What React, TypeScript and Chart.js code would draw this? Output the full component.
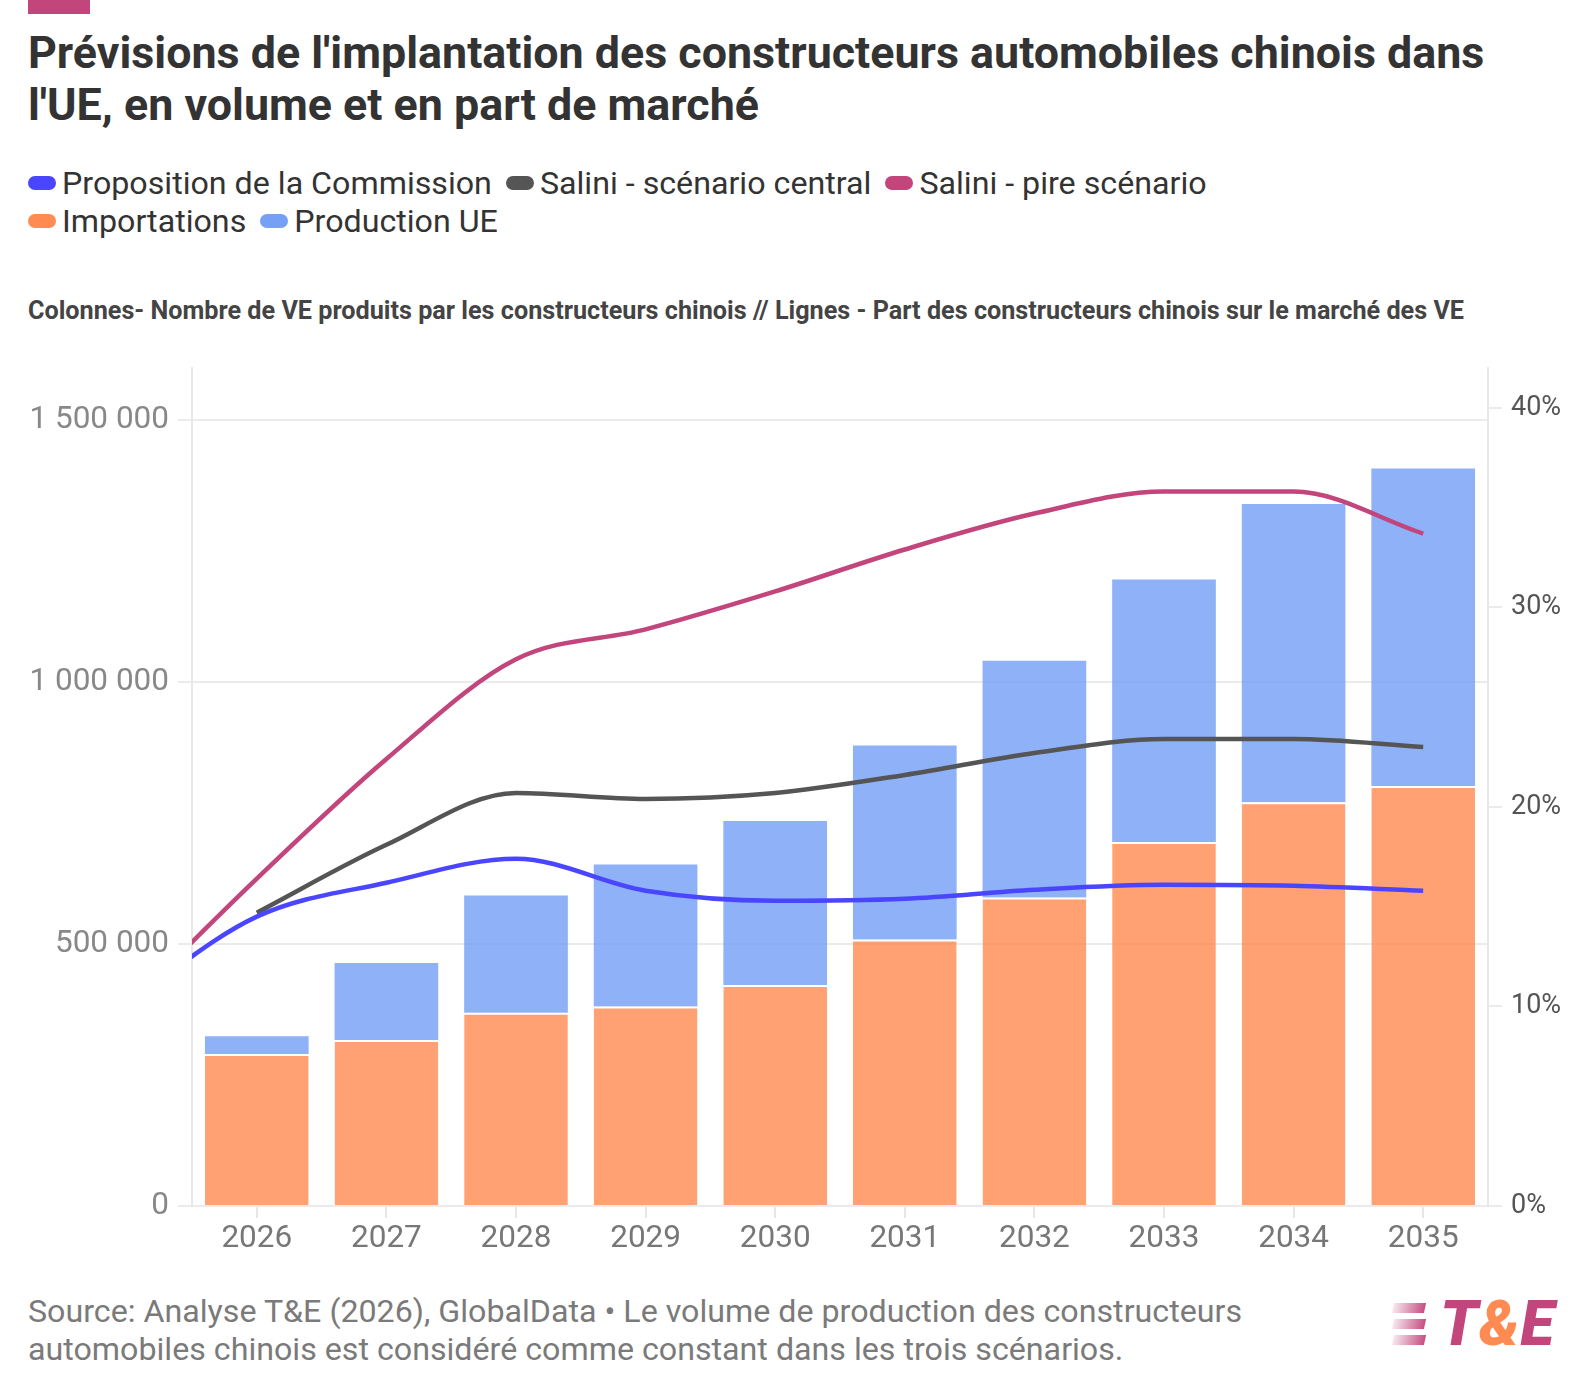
import React, { useEffect, useRef } from 'react';
import { Chart, registerables } from 'chart.js';

Chart.register(...registerables);

// ---- Data ----
const years = [2026, 2027, 2028, 2029, 2030, 2031, 2032, 2033, 2034, 2035];
const lineYears = [2025, 2026, 2027, 2028, 2029, 2030, 2031, 2032, 2033, 2034, 2035];

const importations = [290000, 317000, 369000, 381000, 422000, 509000, 589000, 695000, 771000, 802000];
const productionUE = [34000, 147000, 224000, 271000, 313000, 370000, 452000, 501000, 569000, 606000];

const propositionCommission = [10.2, 14.5, 16.2, 17.4, 15.8, 15.3, 15.4, 15.85, 16.1, 16.05, 15.8];
const saliniCentral = [null, 14.7, 18.1, 20.7, 20.4, 20.7, 21.6, 22.7, 23.4, 23.4, 23.0];
const saliniPire = [10.0, 16.4, 22.4, 27.4, 28.9, 30.8, 32.9, 34.7, 35.8, 35.8, 33.7];

const leftTicks = [0, 500000, 1000000, 1500000];
const rightTicks = [0, 10, 20, 30, 40];

const COLORS = {
  commission: '#4a46ff',
  central: '#555555',
  pire: '#c2457b',
  importBar: 'rgba(255,134,76,0.78)',
  prodBar: 'rgba(110,155,245,0.78)',
  importLegend: '#ff8a52',
  prodLegend: '#75a0f5',
};

const FONT = 'Roboto, "Noto Sans", sans-serif';

function fmtThousands(v: number) {
  return String(v).replace(/\B(?=(\d{3})+(?!\d))/g, ' ');
}

const legendRow1 = [
  { label: 'Proposition de la Commission', color: COLORS.commission },
  { label: 'Salini - scénario central', color: COLORS.central },
  { label: 'Salini - pire scénario', color: COLORS.pire },
];
const legendRow2 = [
  { label: 'Importations', color: COLORS.importLegend },
  { label: 'Production UE', color: COLORS.prodLegend },
];

function LegendRow({ items, top }: { items: { label: string; color: string }[]; top: number }) {
  return (
    <div
      style={{
        position: 'absolute',
        left: 28,
        top,
        height: 38,
        display: 'flex',
        alignItems: 'center',
        whiteSpace: 'nowrap',
        fontFamily: FONT,
        fontSize: 32.2,
        color: '#333',
      }}
    >
      {items.map((it, i) => (
        <div key={i} style={{ display: 'flex', alignItems: 'center', marginRight: 14 }}>
          <span
            style={{
              display: 'inline-block',
              width: 28,
              height: 14,
              borderRadius: 7,
              background: it.color,
              marginRight: 6,
            }}
          />
          <span>{it.label}</span>
        </div>
      ))}
    </div>
  );
}

export default function App() {
  const canvasRef = useRef<HTMLCanvasElement | null>(null);

  useEffect(() => {
    document.body.style.margin = '0';
    const canvas = canvasRef.current;
    if (!canvas) return;

    const lineCommon = {
      type: 'line',
      yAxisID: 'y1',
      borderWidth: 4.5,
      pointRadius: 0,
      pointHoverRadius: 0,
      cubicInterpolationMode: 'monotone',
      clip: 0,
      order: 0,
    };

    const chart = new Chart(canvas, {
      type: 'bar',
      data: {
        datasets: [
          {
            ...lineCommon,
            label: 'Proposition de la Commission',
            data: lineYears.map((x, i) => ({ x, y: propositionCommission[i] })),
            borderColor: COLORS.commission,
          } as any,
          {
            ...lineCommon,
            label: 'Salini - scénario central',
            data: lineYears.map((x, i) => ({ x, y: saliniCentral[i] })),
            borderColor: COLORS.central,
          } as any,
          {
            ...lineCommon,
            label: 'Salini - pire scénario',
            data: lineYears.map((x, i) => ({ x, y: saliniPire[i] })),
            borderColor: COLORS.pire,
          } as any,
          {
            type: 'bar',
            label: 'Importations',
            data: years.map((x, i) => ({ x, y: importations[i] })),
            yAxisID: 'y',
            stack: 's',
            backgroundColor: COLORS.importBar,
            borderColor: '#ffffff',
            borderWidth: { top: 2, left: 0, right: 0, bottom: 0 },
            borderSkipped: false,
            categoryPercentage: 1,
            barPercentage: 0.8,
            order: 1,
          } as any,
          {
            type: 'bar',
            label: 'Production UE',
            data: years.map((x, i) => ({ x, y: productionUE[i] })),
            yAxisID: 'y',
            stack: 's',
            backgroundColor: COLORS.prodBar,
            borderWidth: 0,
            categoryPercentage: 1,
            barPercentage: 0.8,
            order: 1,
          } as any,
        ],
      },
      options: {
        responsive: false,
        animation: false,
        devicePixelRatio: 1,
        layout: { padding: { top: 20, left: 0, right: 0, bottom: 0 } },
        plugins: {
          legend: { display: false },
          tooltip: { enabled: false },
          title: { display: false },
        },
        scales: {
          x: {
            type: 'linear',
            min: 2025.5,
            max: 2035.5,
            offset: false,
            afterBuildTicks: (s: any) => {
              s.ticks = years.map((v) => ({ value: v }));
            },
            afterFit: (s: any) => {
              s.height = 64;
            },
            grid: {
              offset: false,
              drawOnChartArea: false,
              drawTicks: true,
              tickLength: 12,
              color: '#e6e6e6',
              lineWidth: 2,
            },
            border: { display: false },
            ticks: {
              callback: (v: any) => String(v),
              color: '#777777',
              font: { family: FONT, size: 31.5 },
              padding: 2,
              maxRotation: 0,
              autoSkip: false,
            },
          },
          y: {
            type: 'linear',
            position: 'left',
            min: 0,
            max: 1600000,
            stacked: true,
            afterBuildTicks: (s: any) => {
              s.ticks = leftTicks.map((v) => ({ value: v }));
            },
            afterFit: (s: any) => {
              s.width = 192;
            },
            grid: { color: '#ebebeb', lineWidth: 2, tickLength: 14 },
            border: { display: true, color: '#e8e8e8', width: 2 },
            ticks: {
              callback: (v: any) => fmtThousands(Number(v)),
              color: '#888888',
              font: { family: FONT, size: 31.5 },
              padding: 9,
            },
          },
          y1: {
            type: 'linear',
            position: 'right',
            min: 0,
            max: 42,
            afterBuildTicks: (s: any) => {
              s.ticks = rightTicks.map((v) => ({ value: v }));
            },
            afterFit: (s: any) => {
              s.width = 102;
            },
            grid: { drawOnChartArea: false, color: '#ebebeb', lineWidth: 2, tickLength: 14 },
            border: { display: true, color: '#e8e8e8', width: 2 },
            ticks: {
              callback: (v: any) => v + '%',
              color: '#555555',
              font: { family: FONT, size: 27 },
              padding: 9,
            },
          },
        },
      } as any,
    });

    return () => {
      chart.destroy();
    };
  }, []);

  return (
    <div style={{ position: 'relative', width: 1590, height: 1396, background: '#fff', overflow: 'hidden' }}>
      <div style={{ position: 'absolute', left: 28, top: 0, width: 62, height: 14, background: COLORS.pire }} />
      <div
        style={{
          position: 'absolute',
          left: 28,
          top: 27,
          fontFamily: FONT,
          fontWeight: 700,
          fontSize: 44.8,
          lineHeight: '52px',
          color: '#333333',
          whiteSpace: 'nowrap',
        }}
      >
        <div>Prévisions de l'implantation des constructeurs automobiles chinois dans</div>
        <div>l'UE, en volume et en part de marché</div>
      </div>

      <LegendRow items={legendRow1} top={164} />
      <LegendRow items={legendRow2} top={202} />

      <div
        style={{
          position: 'absolute',
          left: 28,
          top: 297,
          fontFamily: FONT,
          fontWeight: 700,
          fontSize: 25.2,
          lineHeight: '28px',
          color: '#444444',
          whiteSpace: 'nowrap',
        }}
      >
        Colonnes- Nombre de VE produits par les constructeurs chinois // Lignes - Part des constructeurs chinois sur le marché des VE
      </div>

      <canvas
        ref={canvasRef}
        width={1590}
        height={930}
        style={{ position: 'absolute', left: 0, top: 340, width: 1590, height: 930 }}
      />

      <div
        style={{
          position: 'absolute',
          left: 28,
          top: 1292,
          fontFamily: FONT,
          fontSize: 32.2,
          lineHeight: '38px',
          color: '#7a7a7a',
          whiteSpace: 'nowrap',
        }}
      >
        <div>Source: Analyse T&amp;E (2026), GlobalData • Le volume de production des constructeurs</div>
        <div>automobiles chinois est considéré comme constant dans les trois scénarios.</div>
      </div>

      <div style={{ position: 'absolute', left: 1393, top: 1303, width: 36, height: 46 }}>
        {[0, 1, 2].map((i) => (
          <div
            key={i}
            style={{
              position: 'absolute',
              left: 0,
              top: i * 16,
              width: 32,
              height: 10,
              background: 'linear-gradient(90deg, rgba(194,69,123,0.12), rgba(194,69,123,0.95))',
              transform: 'skewX(-12deg)',
            }}
          />
        ))}
      </div>
      <div
        style={{
          position: 'absolute',
          left: 1440,
          top: 1289,
          fontFamily: FONT,
          fontWeight: 900,
          fontStyle: 'italic',
          fontSize: 62,
          lineHeight: '70px',
          color: COLORS.pire,
          whiteSpace: 'nowrap',
          letterSpacing: 1,
        }}
      >
        T<span style={{ color: '#ff8a52' }}>&amp;</span>E
      </div>
    </div>
  );
}
